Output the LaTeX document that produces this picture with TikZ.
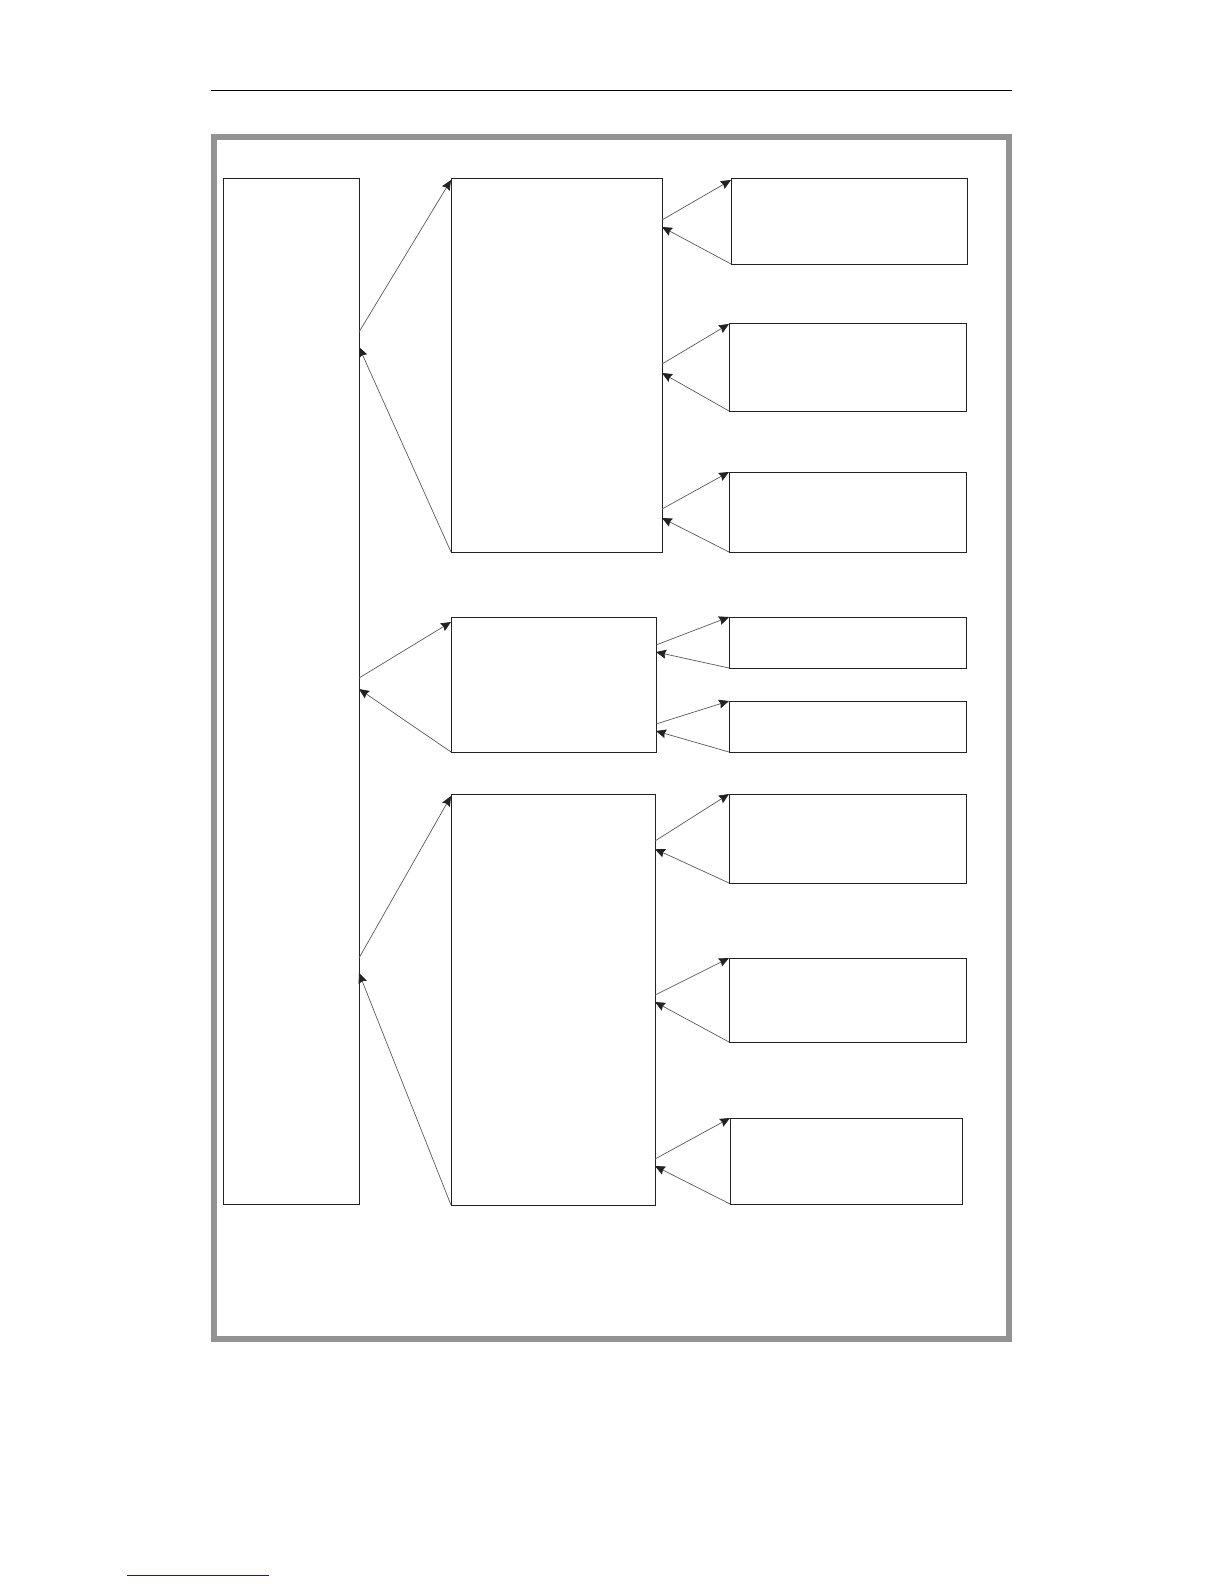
\documentclass[tikz,border=0pt]{standalone}
\usetikzlibrary{arrows.meta,calc,fit}
\definecolor{framegray}{HTML}{939393}
\definecolor{linkblue}{HTML}{1C1C8C}
\definecolor{ink}{HTML}{222222}
\begin{document}
\begin{tikzpicture}[x=0.5pt,y=-0.5pt,
  box/.style={draw=ink, line width=0.45pt, inner sep=0pt, outer sep=0pt},
  conn/.style={draw=ink!75, line width=0.35pt, -{Stealth[length=5pt,width=4.4pt,inset=0.6pt,color=ink]}},
  rule/.style={draw=black, line width=0.5pt}]
\useasboundingbox (0,0) rectangle (1224,1584);
% header rule and frame
\coordinate (ruleA) at (211,91);
\coordinate (ruleB) at (1012,91);
\draw[rule] (ruleA) -- (ruleB);
\draw[framegray, line width=3pt] (214,137) rectangle (1009,1339);
% link underline
\coordinate (linkA) at (127,1575);
\coordinate (linkB) at (269,1575);
\draw[linkblue, line width=0.5pt] (linkA) -- (linkB);
% boxes
\node[box, fit={(223,178) (359,1204)}] (L) {};
\node[box, fit={(451,178) (662,552)}] (M1) {};
\node[box, fit={(451,617) (656,752)}] (M2) {};
\node[box, fit={(451,794) (655,1205)}] (M3) {};
\node[box, fit={(731,178) (967,264)}] (R1) {};
\node[box, fit={(729,323) (966,411)}] (R2) {};
\node[box, fit={(729,472) (966,552)}] (R3) {};
\node[box, fit={(729,617) (966,668)}] (R4) {};
\node[box, fit={(729,701) (966,752)}] (R5) {};
\node[box, fit={(729,794) (966,883)}] (R6) {};
\node[box, fit={(729,958) (966,1042)}] (R7) {};
\node[box, fit={(730,1118) (962,1204)}] (R8) {};
% left <-> middle
\draw[conn] ($(L.north east)+(0,154)$) -- ($(M1.north west)+(0,2)$);
\draw[conn] (M1.south west) -- ($(L.north east)+(0,169)$);
\draw[conn] ($(L.north east)+(0,500)$) -- ($(M2.north west)+(0,5)$);
\draw[conn] (M2.south west) -- ($(L.north east)+(0,511)$);
\draw[conn] ($(L.north east)+(0,780)$) -- ($(M3.north west)+(0,2)$);
\draw[conn] (M3.south west) -- ($(L.north east)+(0,795)$);
% middle 1 <-> right
\draw[conn] ($(M1.north east)+(0,42)$) -- ($(R1.north west)+(0,2)$);
\draw[conn] (R1.south west) -- ($(M1.north east)+(0,49)$);
\draw[conn] ($(M1.north east)+(0,186)$) -- ($(R2.north west)+(0,1)$);
\draw[conn] (R2.south west) -- ($(M1.north east)+(0,195)$);
\draw[conn] ($(M1.north east)+(0,331)$) -- (R3.north west);
\draw[conn] (R3.south west) -- ($(M1.north east)+(0,340)$);
% middle 2 <-> right
\draw[conn] ($(M2.north east)+(0,28)$) -- (R4.north west);
\draw[conn] (R4.south west) -- ($(M2.north east)+(0,35)$);
\draw[conn] ($(M2.north east)+(0,107)$) -- (R5.north west);
\draw[conn] (R5.south west) -- ($(M2.north east)+(0,114)$);
% middle 3 <-> right
\draw[conn] ($(M3.north east)+(0,47)$) -- (R6.north west);
\draw[conn] (R6.south west) -- ($(M3.north east)+(0,55)$);
\draw[conn] ($(M3.north east)+(0,201)$) -- (R7.north west);
\draw[conn] (R7.south west) -- ($(M3.north east)+(0,208)$);
\draw[conn] ($(M3.north east)+(0,365)$) -- (R8.north west);
\draw[conn] (R8.south west) -- ($(M3.north east)+(0,372)$);
\end{tikzpicture}
\end{document}
